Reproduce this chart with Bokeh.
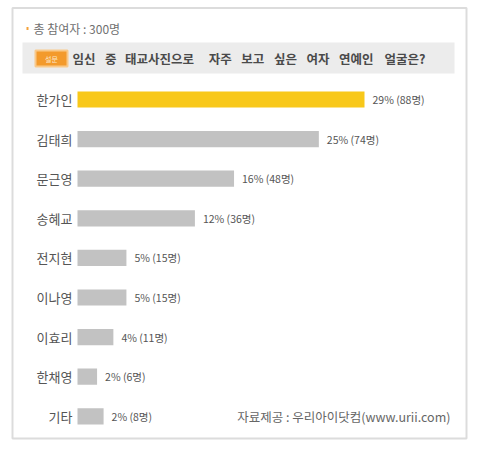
from bokeh.plotting import figure
from bokeh.models import Range1d, ColumnDataSource
from bokeh.core.properties import value
from bokeh.embed import file_html
from bokeh.resources import INLINE

# ---- data ----
names = ["한가인", "김태희", "문근영", "송혜교", "전지현", "이나영", "이효리", "한채영", "기타"]
counts = [88, 74, 48, 36, 15, 15, 11, 6, 8]
pct_labels = ["29%", "25%", "16%", "12%", "5%", "5%", "4%", "2%", "2%"]
total = 300
title_words = ["임신", "중", "태교사진으로", "자주", "보고", "싶은", "여자", "연예인", "얼굴은?"]
header = "총 참여자 : 300명"
source_txt = "자료제공 : 우리아이닷컴(www.urii.com)"
badge_txt = "설문"

FONT = value("Noto Sans CJK KR")
W, H = 470, 443
px_per_count = 287 / 88.0
bar_x0 = 77.0
x_start = -bar_x0 / px_per_count
x_end = (W - bar_x0) / px_per_count
row_px = 39.6
first_px = 99.0
y_start = -first_px / row_px
y_end = y_start + H / row_px

p = figure(width=W, height=H, output_backend="svg", toolbar_location=None,
           x_range=Range1d(x_start, x_end), y_range=Range1d(y_end, y_start),
           x_axis_location=None, y_axis_location=None, min_border=0,
           background_fill_color="white", border_fill_color="white")
p.outline_line_color = None
p.grid.visible = False
p.extra_x_ranges = {"px": Range1d(0, W)}
p.extra_y_ranges = {"px": Range1d(H, 0)}
PX = dict(x_range_name="px", y_range_name="px")

# frame / decorations (pixel range)
p.quad(left=[12], right=[466], top=[7.5], bottom=[438], fill_color=None,
       line_color="#dcdcdc", line_width=2, **PX)
p.quad(left=[22], right=[454], top=[42], bottom=[73], fill_color="#ececec",
       line_color=None, **PX)
p.quad(left=[35], right=[67], top=[50], bottom=[66], fill_color="#f39a2c",
       line_color="#f9c98a", line_width=2, **PX)
p.text(x=[51], y=[58], text=[badge_txt], text_font=FONT, text_font_size="7px",
       text_color="#fde7c8", text_align="center", text_baseline="middle", **PX)

# question words laid out with the wide spacing of the original
wx = [72]
for w in title_words[:-1]:
    wx.append(wx[-1] + len(w) * 12.8 + 7)
p.text(x=wx, y=[58] * len(wx), text=title_words, text_font=FONT, text_font_size="12.5px",
       text_font_style="bold", text_color="#4a4a4a", text_baseline="middle", **PX)

p.quad(left=[26], right=[28], top=[26.5], bottom=[29.5], fill_color="#f5a23a",
       line_color=None, **PX)
p.text(x=[33], y=[28], text=[header], text_font=FONT, text_font_size="12px",
       text_color="#707070", text_baseline="middle", **PX)

# bars
idx = list(range(len(names)))
colors = ["#f8c81a"] + ["#c2c2c2"] * (len(names) - 1)
lab = [f"{pc} ({c}명)" for pc, c in zip(pct_labels, counts)]
src = ColumnDataSource(dict(y=idx, v=counts, name=names, color=colors, lab=lab))
p.hbar(y="y", left=0, right="v", height=0.41, fill_color="color", line_color=None, source=src)
p.text(x=0, y="y", text="name", x_offset=-5, text_align="right", text_baseline="middle",
       text_font=FONT, text_font_size="13px", text_color="#555555", source=src)
p.text(x="v", y="y", text="lab", x_offset=8, text_align="left", text_baseline="middle",
       text_font=FONT, text_font_size="10.5px", text_color="#555555", source=src)

p.text(x=[450], y=[416], text=[source_txt], text_font=FONT, text_font_size="12.5px",
       text_color="#666666", text_align="right", text_baseline="middle", **PX)

open("out.html", "w").write(file_html(p, INLINE))
